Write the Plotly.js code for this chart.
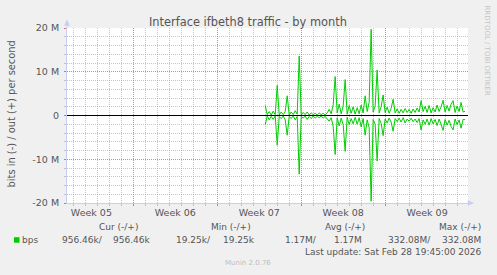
<!DOCTYPE html>
<html><head><meta charset="utf-8">
<script src="https://cdn.plot.ly/plotly-3.0.1.min.js"></script>
<style>html,body{margin:0;padding:0;background:#f0f0f0;}#chart{width:497px;height:275px;}</style>
</head><body><div id="chart"></div>
<script>
// ---- data (Mbit/s), one sample every 4 hours starting 2026-02-12 00:00 ----
const sampleStart = '2026-02-12 00:00';
const sampleStepHours = 4;
const outMbps = [2.3,0.2,0.9,0.1,1.0,0.2,6.9,0.1,0.8,0.2,0.9,4.5,0.1,0.8,0.2,1.1,0.3,13.6,0.1,0.7,
 0.2,0.8,0.1,0.6,0.2,0.5,0.1,0.6,0.2,0.5,0.1,0.6,1.4,0.4,2.4,8.9,0.6,2.6,0.4,2.2,
 8.2,0.3,2.3,0.5,2.0,0.3,1.8,0.4,2.4,0.6,4.5,0.9,3.0,19.7,0.8,2.2,10.4,0.6,2.0,4.7,
 0.7,1.9,0.5,1.6,3.7,0.6,1.5,0.5,1.4,0.6,1.6,0.7,1.4,0.5,1.5,0.7,1.7,0.8,3.4,0.9,
 2.1,0.7,2.3,0.6,1.8,0.8,2.4,0.9,2.0,3.5,0.8,2.3,1.0,2.6,3.4,0.7,2.2,0.9,3.0,0.8,
 0.96];
const inMbps = [-2.1,-0.1,-1.0,-0.2,-0.9,-0.1,-6.8,-0.2,-0.7,-0.1,-1.0,-4.5,-0.2,-0.7,-0.1,-1.0,-0.2,-13.4,-0.2,-0.6,
 -0.1,-0.9,-0.2,-0.7,-0.1,-0.6,-0.2,-0.5,-0.1,-0.6,-0.2,-0.7,-1.3,-0.5,-2.5,-8.9,-0.5,-2.4,-0.6,-2.0,
 -8.2,-0.4,-2.1,-0.7,-1.9,-0.4,-2.0,-0.5,-2.6,-0.7,-4.5,-1.0,-2.8,-19.6,-0.9,-2.0,-10.4,-0.7,-1.8,-4.6,
 -0.8,-1.7,-0.6,-1.5,-3.6,-0.7,-1.4,-0.6,-1.5,-0.5,-1.7,-0.8,-1.3,-0.6,-1.4,-0.8,-1.6,-0.7,-3.3,-1.0,
 -2.0,-0.8,-2.2,-0.7,-1.9,-0.9,-2.3,-0.8,-2.1,-3.4,-0.9,-2.2,-1.1,-2.5,-3.3,-0.8,-2.1,-1.0,-2.9,-0.9,
 -0.96];
const yTickVals = [-20,-10,0,10,20];
const yTickText = ['-20 M','-10 M','0','10 M','20 M'];
const weekStarts = ['2026-02-01','2026-02-08','2026-02-15','2026-02-22'];
const weekMids = ['2026-01-28 12:00','2026-02-04 12:00','2026-02-11 12:00','2026-02-18 12:00','2026-02-25 12:00'];
const weekLabels = ['Week 05','Week 06','Week 07','Week 08','Week 09'];
const xRange = ['2026-01-26 11:15','2026-02-28 21:50'];
const legendHeaders = ['Cur (-/+)','Min (-/+)','Avg (-/+)','Max (-/+)'];
const legendValues = ['956.46k/','956.46k','19.25k/','19.25k','1.17M/','1.17M','332.08M/','332.08M'];
const seriesName = 'bps';
const titleText = 'Interface ifbeth8 traffic - by month';
const yTitle = 'bits in (-) / out (+) per second';
const lastUpdate = 'Last update: Sat Feb 28 19:45:00 2026';
const footer = 'Munin 2.0.76';
const watermark = 'RRDTOOL / TOBI OETIKER';

// ---- build time axis ----
function stamp(base, hours){
  const d = new Date(base.replace(' ','T')+':00Z');
  d.setUTCHours(d.getUTCHours()+hours);
  return d.toISOString().slice(0,16).replace('T',' ');
}
const times = outMbps.map((_,i)=>stamp(sampleStart, i*sampleStepHours));

// ---- layout geometry ----
const W=497,H=275,L=67,R=468,T=28,B=203;
const px = x => (x-L)/(R-L);
const py = y => (B-y)/(B-T);
const FONT = 'DejaVu Sans, sans-serif';
const TXT = '#555555';
const GREEN = '#00cc00';
const AXIS = '#c8cdf2';
const MAJ = 'rgba(235,60,60,0.45)';
const MIN = 'rgba(160,160,160,0.6)';

function ann(text,x,y,anchor,size,color,extra){
  return Object.assign({text:text,x:px(x),y:py(y),xref:'paper',yref:'paper',xanchor:anchor,yanchor:'middle',
    showarrow:false,font:{family:FONT,size:size,color:color}},extra||{});
}
const annotations = [
  ann(titleText,248,21.5,'center',11.4,TXT),
  ann(yTitle,11,114.5,'center',9.9,TXT,{textangle:-90}),
  ann(watermark,487,50.5,'center',7,'#c4c4c4',{textangle:90}),
  ann(legendHeaders[0],118,226.7,'center',9,TXT),
  ann(legendHeaders[1],231,226.7,'center',9,TXT),
  ann(legendHeaders[2],345,226.7,'center',9,TXT),
  ann(legendHeaders[3],459.5,226.7,'center',9,TXT),
  ann(seriesName,20,239.7,'left',9,TXT),
  ann(legendValues[0],104.5,239.7,'right',9,TXT),
  ann(legendValues[1],151.5,239.7,'right',9,TXT),
  ann(legendValues[2],212.5,239.7,'right',9,TXT),
  ann(legendValues[3],257,239.7,'right',9,TXT),
  ann(legendValues[4],318.5,239.7,'right',9,TXT),
  ann(legendValues[5],363.5,239.7,'right',9,TXT),
  ann(legendValues[6],432.5,239.7,'right',9,TXT),
  ann(legendValues[7],482.5,239.7,'right',9,TXT),
  ann(lastUpdate,482.5,251.5,'right',9,TXT),
  ann(footer,248,262.7,'center',7,'#bdbdbd')
];

const shapes = [
  // zero line on top of data
  {type:'line',xref:'paper',yref:'y',x0:0,x1:1,y0:0,y1:0,line:{color:'#000000',width:1},layer:'above'},
  // axis extensions with arrow heads
  {type:'line',xref:'paper',yref:'paper',x0:0,x1:0,y0:1,y1:py(21),line:{color:AXIS,width:1}},
  {type:'path',xref:'paper',yref:'paper',path:`M ${px(64.5)},${py(25.5)} L ${px(69.5)},${py(25.5)} L ${px(67)},${py(20)} Z`,fillcolor:AXIS,line:{color:AXIS,width:0.5}},
  {type:'line',xref:'paper',yref:'paper',x0:1,x1:px(471),y0:0,y1:0,line:{color:AXIS,width:1}},
  {type:'path',xref:'paper',yref:'paper',path:`M ${px(468)},${py(200.5)} L ${px(468)},${py(205.5)} L ${px(473.5)},${py(203)} Z`,fillcolor:AXIS,line:{color:AXIS,width:0.5}},
  // legend colour swatch
  {type:'rect',xref:'paper',yref:'paper',x0:px(14),x1:px(19.5),y0:py(242.7),y1:py(237.2),fillcolor:GREEN,line:{width:0}}
];

const data = [
  {x:times,y:outMbps,type:'scatter',mode:'lines',line:{color:GREEN,width:1},hoverinfo:'skip'},
  {x:times,y:inMbps,type:'scatter',mode:'lines',line:{color:GREEN,width:1},hoverinfo:'skip'},
  {x:weekMids,y:[null,null,null,null,null],xaxis:'x2',type:'scatter',mode:'lines',hoverinfo:'skip'}
];

const layout = {
  width:W,height:H,
  margin:{l:L,r:W-R,t:T,b:H-B,pad:0},
  paper_bgcolor:'#f0f0f0',plot_bgcolor:'#ffffff',
  showlegend:false,
  font:{family:FONT,size:9.5,color:TXT},
  xaxis:{type:'date',range:xRange,tickmode:'array',tickvals:weekStarts,ticktext:weekStarts.map(()=>''),
    showgrid:true,gridcolor:MAJ,griddash:'1px,1px',gridwidth:1,
    ticks:'outside',ticklen:2,tickcolor:'rgba(230,90,90,0.8)',
    minor:{dtick:86400000,tick0:'2026-02-01',showgrid:true,gridcolor:MIN,griddash:'1px,1px',ticks:'outside',ticklen:2,tickcolor:'rgba(160,160,160,0.6)'},
    showline:true,linecolor:AXIS,linewidth:1,zeroline:false,fixedrange:true},
  xaxis2:{type:'date',range:xRange,overlaying:'x',side:'bottom',tickmode:'array',tickvals:weekMids,ticktext:weekLabels,
    showgrid:false,ticks:'',showline:false,zeroline:false,tickfont:{family:FONT,size:9.5,color:TXT},ticklabelstandoff:2},
  yaxis:{range:[-20,20],tickmode:'array',tickvals:yTickVals,ticktext:yTickText,
    showgrid:true,gridcolor:MAJ,griddash:'1px,1px',gridwidth:1,
    ticks:'outside',ticklen:2,tickcolor:'rgba(230,90,90,0.8)',
    minor:{dtick:2,tick0:0,showgrid:true,gridcolor:MIN,griddash:'1px,1px',ticks:'outside',ticklen:2,tickcolor:'rgba(160,160,160,0.6)'},
    showline:true,linecolor:AXIS,linewidth:1,zeroline:false,
    tickfont:{family:FONT,size:9.5,color:TXT},ticklabelstandoff:3,fixedrange:true},
  annotations:annotations,
  shapes:shapes
};
Plotly.newPlot('chart',data,layout,{staticPlot:true,displayModeBar:false});
</script></body></html>
